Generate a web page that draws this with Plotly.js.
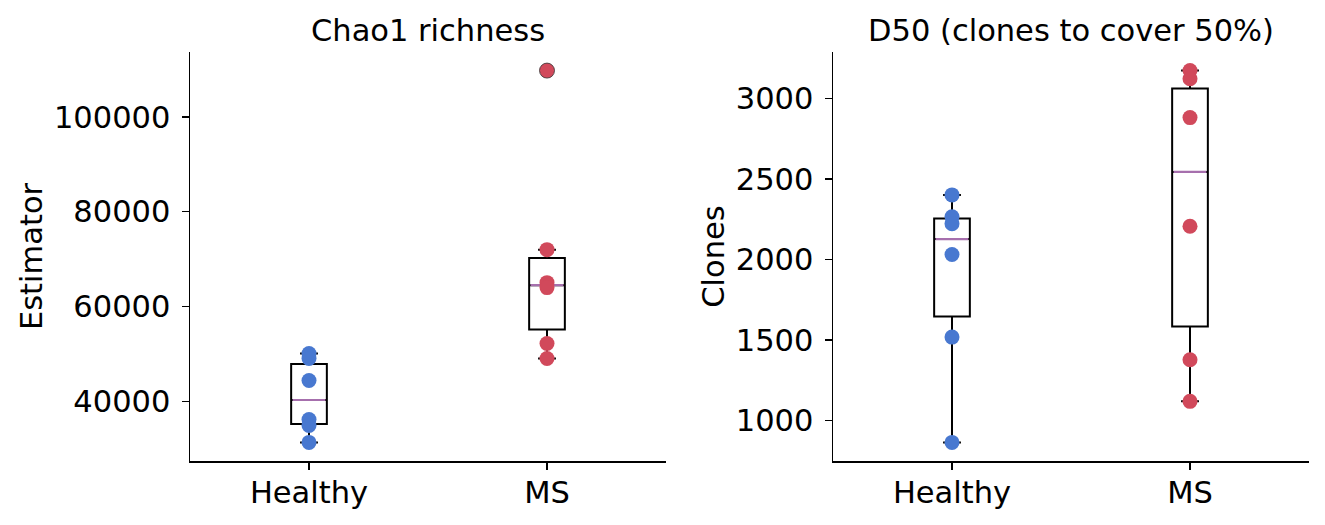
<!DOCTYPE html>
<html>
<head>
<meta charset="utf-8">
<script src="https://cdn.plot.ly/plotly-3.0.1.min.js"></script>
<style>html,body{margin:0;padding:0;background:#fff;}#chart{width:1325px;height:525px;}</style>
</head>
<body>
<div id="chart"></div>
<script>
// ---- data ----
const groups = ["Healthy", "MS"];
const chaoHealthy = [50105, 49050, 44420, 36210, 34950, 31370];
const chaoMS = [109750, 72000, 65050, 64000, 52210, 49050];
const d50Healthy = [2401, 2265, 2222, 2031, 1518, 864];
const d50MS = [3173, 3122, 2881, 2206, 1377, 1119];
const panelTitles = ["Chao1 richness", "D50 (clones to cover 50%)"];
const yTitles = ["Estimator", "Clones"];

// ---- style ----
const groupColors = ["#4878d0", "#d1495b"];
const medianColor = "#a66fad";
const FONT = "DejaVu Sans";
const FS = 30.5;
const BOXW = 0.15;

function quant(arr, p) {
  const s = arr.slice().sort((a, b) => a - b);
  const pos = (s.length - 1) * p;
  const lo = Math.floor(pos), hi = Math.ceil(pos);
  return s[lo] + (s[hi] - s[lo]) * (pos - lo);
}
function stats(arr) {
  const q1 = quant(arr, 0.25), med = quant(arr, 0.5), q3 = quant(arr, 0.75);
  const iqr = q3 - q1;
  const lo = q1 - 1.5 * iqr, hi = q3 + 1.5 * iqr;
  const inside = arr.filter(v => v >= lo && v <= hi);
  return {q1, med, q3, lf: Math.min(...inside), uf: Math.max(...inside), lo, hi};
}

const panels = [[chaoHealthy, chaoMS], [d50Healthy, d50MS]];
const traces = [];
panels.forEach((pd, pi) => {
  const xa = pi === 0 ? "x" : "x2";
  const ya = pi === 0 ? "y" : "y2";
  pd.forEach((vals, gi) => {
    const st = stats(vals);
    traces.push({
      type: "box", x: [gi], q1: [st.q1], median: [st.med], q3: [st.q3],
      lowerfence: [st.lf], upperfence: [st.uf],
      width: BOXW, whiskerwidth: 0.5, boxpoints: false,
      line: {color: "black", width: 2}, fillcolor: "white",
      xaxis: xa, yaxis: ya, showlegend: false, hoverinfo: "skip"
    });
    traces.push({
      type: "scatter", mode: "lines", x: [gi - BOXW / 2 + 0.006, gi + BOXW / 2 - 0.006], y: [st.med, st.med],
      line: {color: medianColor, width: 2.2}, xaxis: xa, yaxis: ya, showlegend: false, hoverinfo: "skip"
    });
  });
  pd.forEach((vals, gi) => {
    const st = stats(vals);
    traces.push({
      type: "scatter", mode: "markers", x: vals.map(() => gi), y: vals,
      marker: {color: groupColors[gi], size: 15,
        line: {color: "#333333", width: vals.map(v => (v < st.lo || v > st.hi) ? 0.8 : 0)}},
      xaxis: xa, yaxis: ya, showlegend: false, name: groups[gi]
    });
  });
});

function yrange(pd) {
  const all = pd[0].concat(pd[1]);
  const mn = Math.min(...all), mx = Math.max(...all);
  const m = (mx - mn) * 0.05;
  return [mn - m, mx + m];
}

const axisCommon = {
  showline: true, linecolor: "black", linewidth: 1.5, ticks: "outside", ticklen: 7, tickwidth: 1.5,
  tickcolor: "black", showgrid: false, zeroline: false, mirror: false,
  tickfont: {family: FONT, size: FS, color: "black"}
};
const xd1 = [190 / 1325, 666 / 1325], xd2 = [833 / 1325, 1309 / 1325];
const yd = [(525 - 461) / 525, (525 - 52) / 525];

const layout = {
  width: 1325, height: 525, margin: {l: 0, r: 0, t: 0, b: 0},
  paper_bgcolor: "white", plot_bgcolor: "white", showlegend: false,
  font: {family: FONT, size: FS, color: "black"},
  xaxis: Object.assign({}, axisCommon, {domain: xd1, range: [-0.5, 1.5], tickvals: [0, 1], ticktext: groups, anchor: "y", ticklabelstandoff: -3}),
  yaxis: Object.assign({}, axisCommon, {domain: yd, range: yrange(panels[0]), dtick: 20000, tickformat: "d", anchor: "x",
    ticklabelstandoff: 5, title: {text: yTitles[0], font: {family: FONT, size: FS}, standoff: 2}}),
  xaxis2: Object.assign({}, axisCommon, {domain: xd2, range: [-0.5, 1.5], tickvals: [0, 1], ticktext: groups, anchor: "y2", ticklabelstandoff: -3}),
  yaxis2: Object.assign({}, axisCommon, {domain: yd, range: yrange(panels[1]), dtick: 500, tickformat: "d", anchor: "x2",
    ticklabelstandoff: 5, title: {text: yTitles[1], font: {family: FONT, size: FS}, standoff: 2}}),
  annotations: panelTitles.map((t, i) => ({
    text: t, xref: "paper", yref: "paper",
    x: i === 0 ? (xd1[0] + xd1[1]) / 2 : (xd2[0] + xd2[1]) / 2,
    y: (525 - 30) / 525, xanchor: "center", yanchor: "middle", showarrow: false,
    font: {family: FONT, size: FS, color: "black"}
  }))
};

Plotly.newPlot("chart", traces, layout, {staticPlot: true, displayModeBar: false});
</script>
</body>
</html>
